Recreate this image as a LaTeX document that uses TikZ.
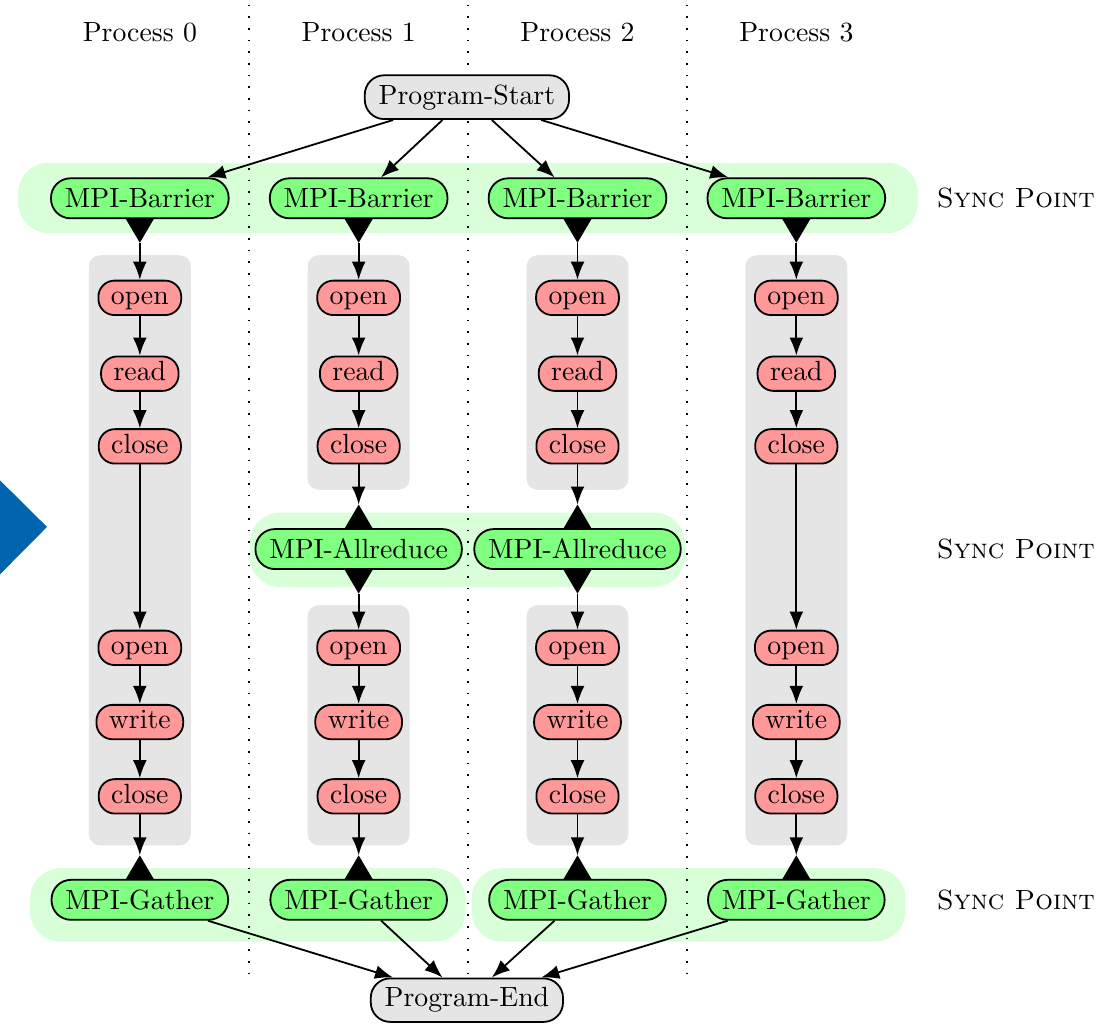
\documentclass[tikz,border=0pt]{standalone}
\usepackage{tikz}
\usetikzlibrary{arrows.meta,calc,backgrounds}
\definecolor{slideblue}{HTML}{0064AF}

\begin{document}
\begin{tikzpicture}[line width=0.65pt,
    endpoint/.style={draw,fill=gray!20,rounded corners=7pt,minimum height=14.4pt,inner xsep=5pt},
    mpi/.style={draw,fill=green!50,rounded corners=7pt,minimum height=14.4pt,inner xsep=5pt},
    fileop/.style={draw,fill=red!40,rounded corners=5.8pt,minimum height=12.4pt,inner xsep=4.5pt,inner ysep=1.5pt,
      text height=1.55ex,text depth=.4ex},
    flow/.style={-{Latex[length=6.5pt,width=5pt]}},
    sep/.style={line width=0.6pt,dash pattern=on 0.6pt off 3.6pt}]
  \useasboundingbox (0,0) rectangle (14,-12.95);
  % process headers
  \foreach \i/\x in {0/1.77,1/4.54,2/7.31,3/10.08}
    \node (proc\i) at (\x,-0.41) {Process \i};
  \node[endpoint] (start) at (5.91,-1.23) {Program-Start};
  \node[endpoint] (end) at (5.91,-12.66) {Program-End};
  % one column per process
  \foreach \i/\x in {0/1.77,1/4.54,2/7.31,3/10.08} {
    \node[mpi] (bar\i) at (\x,-2.51) {MPI-Barrier};
    \node[fileop] (opena\i) at (\x,-3.77) {open};
    \node[fileop] (read\i) at (\x,-4.73) {read};
    \node[fileop] (closea\i) at (\x,-5.65) {close};
    \node[fileop] (openb\i) at (\x,-8.20) {open};
    \node[fileop] (write\i) at (\x,-9.14) {write};
    \node[fileop] (closeb\i) at (\x,-10.08) {close};
    \node[mpi] (gat\i) at (\x,-11.39) {MPI-Gather};
    \draw[flow] (start) -- (bar\i);
    \draw[flow,shorten <=8.5pt] (bar\i) -- (opena\i);
    \draw[flow] (opena\i) -- (read\i);
    \draw[flow] (read\i) -- (closea\i);
    \draw[flow] (openb\i) -- (write\i);
    \draw[flow] (write\i) -- (closeb\i);
    \draw[flow,shorten >=8.5pt] (closeb\i) -- (gat\i);
    \draw[flow] (gat\i) -- (end);
  }
  \node[mpi] (allr1) at (4.54,-6.95) {MPI-Allreduce};
  \node[mpi] (allr2) at (7.31,-6.95) {MPI-Allreduce};
  \foreach \i in {0,3}
    \draw[flow] (closea\i) -- (openb\i);
  \foreach \i in {1,2} {
    \draw[flow,shorten >=8.5pt] (closea\i) -- (allr\i);
    \draw[flow,shorten <=8.5pt] (allr\i) -- (openb\i);
  }
  % sync triangles
  \foreach \n in {bar0,bar1,bar2,bar3,allr1,allr2}
    \fill (\n.south) ++(-5pt,0) -- ++(10pt,0) -- ++(-5pt,-8.5pt) -- cycle;
  \foreach \n in {allr1,allr2,gat0,gat1,gat2,gat3}
    \fill (\n.north) ++(-5pt,0) -- ++(10pt,0) -- ++(-5pt,8.5pt) -- cycle;
  % labels on the right
  \node[anchor=west] (sync1) at (11.73,-2.51) {\textsc{Sync Point}};
  \node[anchor=west] (sync2) at (11.73,-6.95) {\textsc{Sync Point}};
  \node[anchor=west] (sync3) at (11.73,-11.39) {\textsc{Sync Point}};
  \fill[slideblue] (0,-6.08) -- (0.595,-6.67) -- (0,-7.27) -- cycle;
  \begin{scope}[on background layer]
    \fill[green!15,rounded corners=11pt] (0.23,-2.06) rectangle (11.62,-2.95);
    \fill[green!15,rounded corners=11pt] (3.16,-6.49) rectangle (8.67,-7.43);
    \fill[green!15,rounded corners=11pt] (0.38,-10.99) rectangle (5.89,-11.92);
    \fill[green!15,rounded corners=11pt] (5.97,-10.99) rectangle (11.46,-11.92);
    \foreach \x in {1.77,10.08}
      \fill[gray!20,rounded corners=4pt] (\x-0.645,-3.23) rectangle (\x+0.645,-10.70);
    \foreach \x in {4.54,7.31} {
      \fill[gray!20,rounded corners=4pt] (\x-0.645,-3.23) rectangle (\x+0.645,-6.20);
      \fill[gray!20,rounded corners=4pt] (\x-0.645,-7.66) rectangle (\x+0.645,-10.70);
    }
    \foreach \x in {3.155,5.925,8.695}
      \draw[sep] (\x,-0.06) -- (\x,-12.38);
  \end{scope}
\end{tikzpicture}
\end{document}
